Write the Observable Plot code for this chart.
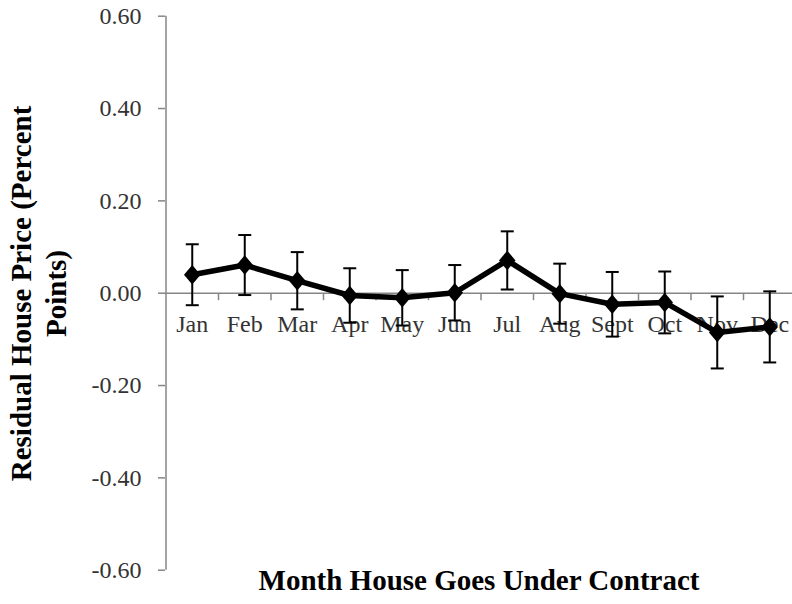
<!DOCTYPE html>
<html>
<head>
<meta charset="utf-8">
<script src="https://cdn.jsdelivr.net/npm/d3@7"></script>
<script src="https://cdn.jsdelivr.net/npm/@observablehq/plot@0.6"></script>
<style>
  html, body { margin: 0; padding: 0; background: #fff; overflow: hidden; }
</style>
</head>
<body>
<div id="chart"></div>
<script>
const months = ["Jan", "Feb", "Mar", "Apr", "May", "Jun", "Jul", "Aug", "Sept", "Oct", "Nov", "Dec"];
const values = [0.040, 0.061, 0.027, -0.005, -0.010, 0.001, 0.071, -0.001, -0.024, -0.020, -0.085, -0.073];
const errors = [0.066, 0.065, 0.062, 0.059, 0.060, 0.060, 0.063, 0.065, 0.070, 0.067, 0.078, 0.077];
const yTicks = [-0.6, -0.4, -0.2, 0, 0.2, 0.4, 0.6];
const yTitle = "Residual House Price (Percent\nPoints)";
const xTitle = "Month House Goes Under Contract";

const rows = months.map((m, i) => ({m, pos: i + 0.5, v: values[i], e: errors[i]}));
const bounds = d3.range(1, months.length + 1);

const diamond = {
  draw(ctx, size) {
    const r = Math.sqrt(size / Math.PI);
    ctx.moveTo(0, -r * 1.08);
    ctx.lineTo(r * 0.92, 0);
    ctx.lineTo(0, r * 1.08);
    ctx.lineTo(-r * 0.92, 0);
    ctx.closePath();
  }
};
const cap = {
  draw(ctx, size) {
    const r = Math.sqrt(size / Math.PI);
    ctx.moveTo(-r, 0);
    ctx.lineTo(r, 0);
  }
};
const tickDown = {
  draw(ctx, size) {
    const r = Math.sqrt(size / Math.PI);
    ctx.moveTo(0, 0);
    ctx.lineTo(0, r);
  }
};

const gray = "#868686";
const chart = Plot.plot({
  width: 792,
  height: 604,
  marginLeft: 165,
  marginRight: 0,
  marginTop: 16,
  marginBottom: 34,
  style: {fontFamily: "'Liberation Serif', 'Times New Roman', serif", fontSize: "24px", background: "#fff"},
  x: {domain: [0, months.length], range: [165.5, 795.5], axis: null},
  y: {domain: [-0.6, 0.6], range: [569.7, 15.7], axis: null},
  marks: [
    Plot.ruleX([0], {y1: -0.6, y2: 0.6, stroke: gray, strokeWidth: 1.5}),
    Plot.axisY(yTicks, {anchor: "left", tickSize: 7, tickPadding: 17, tickFormat: d => d.toFixed(2),
      stroke: gray, strokeWidth: 1.5, fill: "#333", fontSize: 24, label: null}),
    Plot.ruleY([0], {stroke: gray, strokeWidth: 1.5}),
    Plot.dot(bounds, {x: d => d, y: 0, symbol: tickDown, r: 7, stroke: gray, strokeWidth: 1.5, fill: "none"}),
    Plot.text(rows, {x: "pos", y: 0, text: "m", lineAnchor: "top", dy: 22, fontSize: 24, fill: "#333"}),
    Plot.ruleX(rows, {x: "pos", y1: d => d.v - d.e, y2: d => d.v + d.e, stroke: "black", strokeWidth: 2}),
    Plot.dot(rows, {x: "pos", y: d => d.v + d.e, symbol: cap, r: 6.5, stroke: "black", strokeWidth: 2}),
    Plot.dot(rows, {x: "pos", y: d => d.v - d.e, symbol: cap, r: 6.5, stroke: "black", strokeWidth: 2}),
    Plot.line(rows, {x: "pos", y: "v", stroke: "black", strokeWidth: 5.5, strokeLinejoin: "round"}),
    Plot.dot(rows, {x: "pos", y: "v", symbol: diamond, r: 9, fill: "black", stroke: "none"}),
    Plot.text([yTitle], {frameAnchor: "left", textAnchor: "middle", rotate: -90, dx: -128, lineHeight: 1.2,
      fontSize: 29, fontWeight: "bold", fill: "black"}),
    Plot.text([xTitle], {frameAnchor: "bottom", dy: 19, fontSize: 29, fontWeight: "bold", fill: "black"})
  ]
});
document.getElementById("chart").appendChild(chart);
</script>
</body>
</html>
